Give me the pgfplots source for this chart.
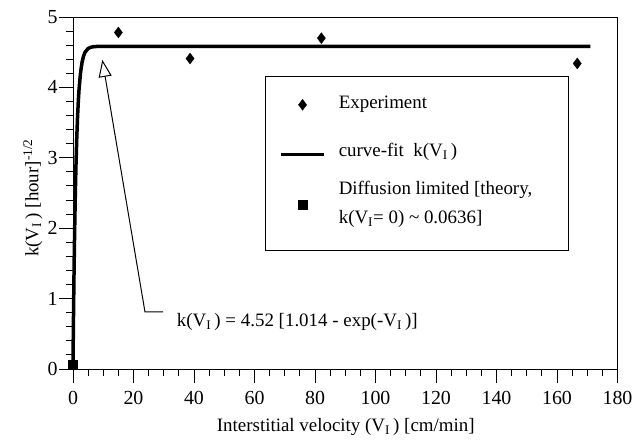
\documentclass[border=0pt]{standalone}
\usepackage{pgfplots}
\pgfplotsset{compat=1.18}
\usepackage{fontspec}
\setmainfont{Liberation Serif}
\usetikzlibrary{arrows.meta}

\newcommand{\lblfont}{\fontsize{19}{22}\selectfont}

\begin{document}
\begin{tikzpicture}
\begin{axis}[
  scale only axis,
  width=544.5bp, height=352bp,
  xmin=0, xmax=180, ymin=0, ymax=5,
  xtick={0,20,...,180}, ytick={0,1,...,5},
  minor x tick num=3, minor y tick num=4,
  xtick pos=bottom, ytick pos=left,
  tick align=outside,
  major tick length=14bp, minor tick length=7bp,
  axis line style={line width=1pt},
  every tick/.style={black, line width=1pt},
  /pgf/number format/assume math mode=true,
  tick label style={font=\fontsize{20}{22}\selectfont},
  xticklabel style={yshift=-5bp},
  yticklabel style={xshift=2bp},
  label style={font=\lblfont},
  xlabel={Interstitial velocity (V\textsubscript{I}\,) [cm/min]},
  ylabel={k(V\textsubscript{I}\,) [hour]\textsuperscript{-1/2}},
  x label style={at={(axis description cs:0.501,-0.165)}, anchor=center},
  y label style={at={(axis description cs:-0.0735,0.486)}, anchor=center},
  clip=false,
  legend cell align=left,
  legend image code/.code={\draw[mark repeat=2,mark phase=2,#1] plot coordinates {(0bp,0bp) (21.5bp,0bp) (43bp,0bp)};},
  legend style={at={(axis cs:63.5,4.15)}, anchor=north west, draw=none,
    fill=none, inner xsep=14bp, inner ysep=0pt, row sep=0pt,
    nodes={inner sep=0pt, text depth=},
    font=\fontsize{19}{22}\selectfont,
    /tikz/every odd column/.append style={column sep=13bp}},
]

% legend frame
\draw[line width=1pt] (axis cs:63.5,4.15) rectangle (axis cs:163.8,1.69);

% measured rate constants
\addplot[only marks, mark=diamond*, mark size=5.5bp,
  mark options={fill=black, draw=black, line width=0.3pt}]
  coordinates {(15.0,4.78) (38.7,4.41) (82.1,4.70) (166.7,4.34)};
\addlegendentry{\rule[-24bp]{0pt}{55.5bp}Experiment}

% k(V_I) = 4.52 [1.014 - exp(-V_I)], tabulated
\addplot[black, line width=3.5bp, line join=round, mark=none] coordinates {
  (0,0.0633) (0.1,0.4934) (0.2,0.8826) (0.3,1.2348) (0.4,1.5534)
  (0.5,1.8418) (0.6,2.1026) (0.8,2.5523) (1.0,2.9205) (1.25,3.2883)
  (1.5,3.5747) (1.75,3.7978) (2.0,3.9716) (2.5,4.2123) (3.0,4.3582)
  (3.5,4.4468) (4.0,4.5005) (5.0,4.5528) (6.0,4.5721) (7.0,4.5792)
  (8.0,4.5818) (10,4.5826) (171,4.5828)};
\addlegendentry{\rule[-20bp]{0pt}{44bp}curve-fit\ \ k(V\textsubscript{I}\,)}

% diffusion-limited value at V_I = 0
\addplot[only marks, mark=square*, mark size=4.5bp,
  mark options={fill=black, draw=black, line width=0.3pt},
  legend image post style={yshift=-1.5bp}]
  coordinates {(0,0.0636)};
\addlegendentry{{\fontsize{19}{19}\selectfont\begin{tabular}[t]{@{}l@{}}\rule{0pt}{18bp}Diffusion limited [theory,\\[10bp]k(V\textsubscript{I}= 0) \textasciitilde{} 0.0636]\end{tabular}}}

% callout for the fitted expression
\draw[line width=1pt, -{Triangle[open, length=17bp, width=13bp]}]
  (axis cs:29.8,0.81) -- (axis cs:23.8,0.81) -- (axis cs:9.7,4.39);
\node[anchor=base west, font=\lblfont, inner sep=0pt] at (axis cs:34.3,0.60)
  {k(V\textsubscript{I}\,) = 4.52 [1.014 - exp(-V\textsubscript{I}\,)]};
\end{axis}
\pgfresetboundingbox
\path ([shift={(-73bp,-76bp)}]current axis.south west) rectangle ([shift={(16.5bp,17bp)}]current axis.north east);
\end{tikzpicture}
\end{document}
